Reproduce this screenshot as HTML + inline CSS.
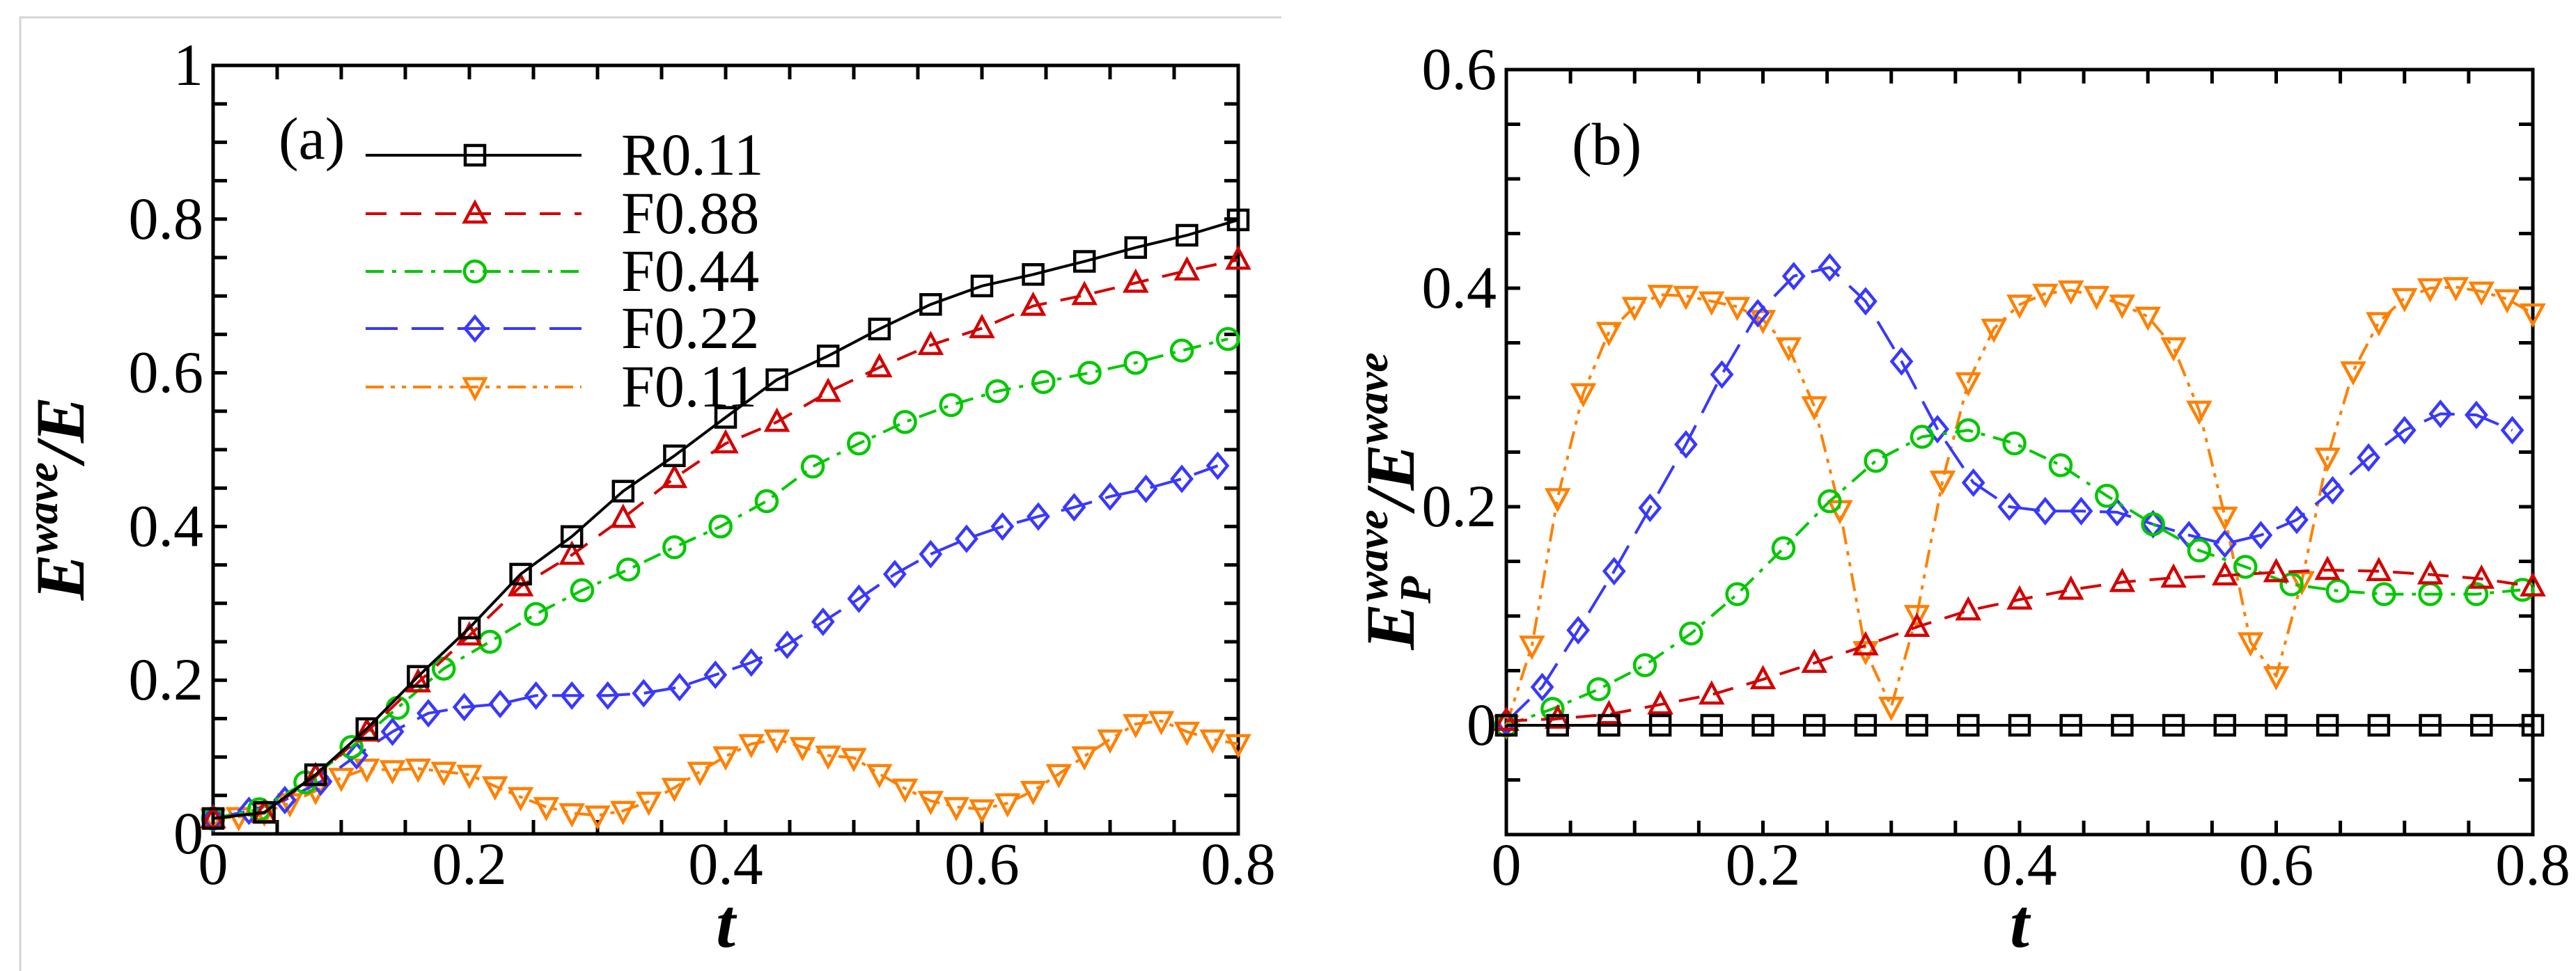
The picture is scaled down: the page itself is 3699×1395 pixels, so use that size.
<!DOCTYPE html>
<html><head><meta charset="utf-8"><style>
html,body{margin:0;padding:0;background:#fff;}
svg{display:block;}
svg text{font-family:"Liberation Serif","Times New Roman","DejaVu Serif",serif;fill:#000;}
</style></head><body>
<svg id="fig" width="3699" height="1395" viewBox="0 0 3699 1395" xmlns="http://www.w3.org/2000/svg" font-family="'Liberation Serif','Times New Roman','DejaVu Serif',serif">
<rect x="0" y="0" width="3699" height="1395" fill="#fff"/>
<path d="M29 1395 V25 H1840" fill="none" stroke="#d4d4d4" stroke-width="3"/>
<g id="pa"></g>
<g id="pb"></g>
</svg>
<script>
// ---- Panel (a) data ----
const aR_t = [0,0.04,0.08,0.12,0.16,0.2,0.24,0.28,0.32,0.36,0.4,0.44,0.48,0.52,0.56,0.6,0.64,0.68,0.72,0.76,0.8];
const aR_v = [0.02,0.028,0.077,0.137,0.205,0.268,0.338,0.387,0.446,0.492,0.542,0.591,0.622,0.657,0.689,0.713,0.728,0.745,0.763,0.779,0.799];
const aF88_v = [0.02,0.027,0.075,0.133,0.197,0.258,0.322,0.363,0.411,0.463,0.508,0.536,0.575,0.607,0.636,0.658,0.687,0.701,0.717,0.733,0.747];
const aF44_v = [0.02,0.032,0.067,0.113,0.164,0.215,0.25,0.286,0.317,0.344,0.373,0.4,0.433,0.478,0.508,0.536,0.558,0.576,0.588,0.6,0.613,0.629,0.644];
const aF22_v = [0.02,0.03,0.044,0.068,0.102,0.133,0.157,0.165,0.169,0.18,0.18,0.18,0.183,0.191,0.207,0.223,0.246,0.276,0.306,0.338,0.364,0.384,0.4,0.413,0.425,0.439,0.449,0.462,0.479];
const aF11_v = [0.02,0.022,0.028,0.04,0.056,0.073,0.085,0.083,0.085,0.081,0.077,0.062,0.048,0.035,0.027,0.024,0.03,0.042,0.06,0.081,0.101,0.117,0.123,0.113,0.102,0.099,0.078,0.059,0.043,0.035,0.032,0.04,0.056,0.078,0.101,0.123,0.143,0.147,0.133,0.123,0.117];
// ---- Panel (b) data ----
const bR_v = [0,0,0,0,0,0,0,0,0,0,0,0,0,0,0,0,0,0,0,0,0];
const bF88_v = [0.004,0.006,0.01,0.019,0.028,0.042,0.057,0.073,0.09,0.105,0.115,0.124,0.131,0.135,0.137,0.14,0.142,0.141,0.138,0.134,0.127];
const bF44_v = [0,0.015,0.033,0.055,0.084,0.12,0.162,0.205,0.242,0.264,0.27,0.258,0.238,0.21,0.184,0.16,0.145,0.129,0.123,0.12,0.12,0.12,0.124];
const bF22_v = [0.003,0.035,0.087,0.141,0.199,0.257,0.321,0.377,0.411,0.419,0.388,0.333,0.271,0.222,0.2,0.196,0.196,0.195,0.184,0.174,0.166,0.174,0.188,0.215,0.245,0.27,0.285,0.284,0.27];
const bF11_v = [0,0.073,0.208,0.304,0.36,0.383,0.394,0.393,0.388,0.383,0.371,0.346,0.292,0.197,0.068,0.017,0.101,0.224,0.314,0.363,0.385,0.395,0.398,0.393,0.385,0.374,0.346,0.288,0.191,0.076,0.045,0.132,0.245,0.324,0.369,0.391,0.4,0.401,0.397,0.39,0.377];
const xTicks = [0,0.2,0.4,0.6,0.8];
const xTickLabels = ["0","0.2","0.4","0.6","0.8"];
const aYTicks = [0,0.2,0.4,0.6,0.8,1];
const aYTickLabels = ["0","0.2","0.4","0.6","0.8","1"];
const bYTicks = [0,0.2,0.4,0.6];
const bYTickLabels = ["0","0.2","0.4","0.6"];
const legendNames = ["R0.11","F0.88","F0.44","F0.22","F0.11"];

const NS="http://www.w3.org/2000/svg";
const FF="'Liberation Serif','Times New Roman','DejaVu Serif',serif";
function mk(tag, attrs, parent){const e=document.createElementNS(NS,tag);for(const k in attrs)e.setAttribute(k,attrs[k]);if(tag==="text")e.setAttribute("font-family",FF);parent.appendChild(e);return e;}
function tseq(step,n){const a=[];for(let i=0;i<n;i++)a.push(+(i*step).toFixed(4));return a;}

const styles = {
  R:{c:"#000000",d:"none",m:"sq"},
  F88:{c:"#d40000",d:"30 20",m:"tri"},
  F44:{c:"#00c800",d:"26 12 6 12",m:"circ"},
  F22:{c:"#3838ff",d:"46 20",m:"dia"},
  F11:{c:"#ff8000",d:"26 10 6 10 6 10",m:"tdn"}
};

function marker(g,type,x,y,c){
  const s=14; let e;
  if(type==="sq") e=mk("rect",{x:x-s,y:y-s,width:2*s,height:2*s},g);
  else if(type==="circ") e=mk("circle",{cx:x,cy:y,r:s+1},g);
  else if(type==="tri") e=mk("polygon",{points:`${x},${y-s-2} ${x+s+1},${y+s-2} ${x-s-1},${y+s-2}`},g);
  else if(type==="tdn") e=mk("polygon",{points:`${x},${y+s+2} ${x+s+1},${y-s+2} ${x-s-1},${y-s+2}`},g);
  else e=mk("polygon",{points:`${x},${y-s-3} ${x+s},${y} ${x},${y+s+3} ${x-s},${y}`},g);
  e.setAttribute("fill","none");e.setAttribute("stroke",c);e.setAttribute("stroke-width","4.5");
  
  
}

function series(g,name,st,ts,vs,X,Y){
  const sg=mk("g",{},g);
  
  
  const pts=ts.map((t,i)=>X(t)+","+Y(vs[i])).join(" ");
  const pl=mk("polyline",{points:pts,fill:"none",stroke:st.c,"stroke-width":4,"stroke-dasharray":st.d,"stroke-linejoin":"round"},sg);
  
  
  ts.forEach((t,i)=>marker(sg,st.m,X(t),Y(vs[i]),st.c));
}

function axes(g,L,R,T,B,ymin,ymax,X,Y,yTicks,yLabels,pfx){
  const tg=mk("g",{stroke:"#000","stroke-width":5},g);
  
  
  for(let k=0;k<=16;k++){const t=k*0.05,x=X(t);
    mk("line",{x1:x,y1:B,x2:x,y2:B-20},tg);mk("line",{x1:x,y1:T,x2:x,y2:T+20},tg);}
  const nY=Math.round((ymax-ymin)/0.05);
  for(let k=0;k<=nY;k++){const v=ymin+k*0.05,y=Y(v);
    mk("line",{x1:L,y1:y,x2:L+20,y2:y},tg);mk("line",{x1:R,y1:y,x2:R-20,y2:y},tg);}
  const fr=mk("rect",{x:L,y:T,width:R-L,height:B-T,fill:"none",stroke:"#000","stroke-width":5},g);
  
  
  xTicks.forEach((t,i)=>{const e=mk("text",{x:X(t),y:B+72,"font-size":86,"text-anchor":"middle"},g);e.textContent=xTickLabels[i];
    
    });
  yTicks.forEach((v,i)=>{const e=mk("text",{x:L-14,y:Y(v)+28,"font-size":86,"text-anchor":"end"},g);e.textContent=yLabels[i];
    
    });
}

// Panel a
(function(){
  const g=document.getElementById("pa");
  const L=306,R=1778,T=94,B=1198;
  const X=t=>L+t/0.8*(R-L), Y=v=>B-v*(B-T);
  axes(g,L,R,T,B,0,1,X,Y,aYTicks,aYTickLabels,"a");
  series(g,"a-F11",styles.F11,tseq(0.02,41),aF11_v,X,Y);
  series(g,"a-F22",styles.F22,tseq(0.028,29),aF22_v,X,Y);
  series(g,"a-F44",styles.F44,tseq(0.036,23),aF44_v,X,Y);
  series(g,"a-F88",styles.F88,aR_t,aF88_v,X,Y);
  series(g,"a-R0.11",styles.R,aR_t,aR_v,X,Y);
  const lab=mk("text",{x:400,y:228,"font-size":86},g);lab.textContent="(a)";
  
  
  const lg=mk("g",{},g);
  
  
  const keys=["R","F88","F44","F22","F11"], ly=[223,307,390,472,556];
  keys.forEach((k,i)=>{const st=styles[k];
    const eg=mk("g",{},lg);
    
    
    mk("line",{x1:525,y1:ly[i],x2:835,y2:ly[i],stroke:st.c,"stroke-width":4,"stroke-dasharray":st.d},eg);
    marker(eg,st.m,682,ly[i],st.c);
    const tx=mk("text",{x:892,y:ly[i]+28,"font-size":86},eg);tx.textContent=legendNames[i];});
  const xt=mk("text",{x:1042,y:1360,"font-size":100,"font-style":"italic","font-weight":"bold","text-anchor":"middle"},g);xt.textContent="t";
  
  
  const yt=mk("text",{x:0,y:0,"font-size":100,"font-style":"italic","font-weight":"bold","text-anchor":"middle",transform:"translate(120,716) rotate(-90)"},g);
  yt.innerHTML='E<tspan font-size="64" dy="-38">wave</tspan><tspan dy="38">/E</tspan>';
  
  
})();

// Panel b
(function(){
  const g=document.getElementById("pb");
  const L=2163,R=3637,B=1199;
  const Y0=1042, per=(B-Y0)/0.1;
  const X=t=>L+t/0.8*(R-L), Y=v=>Y0-v*per;
  axes(g,L,R,Y(0.6),B,-0.1,0.6,X,Y,bYTicks,bYTickLabels,"b");
  series(g,"b-F11",styles.F11,tseq(0.02,41),bF11_v,X,Y);
  series(g,"b-F22",styles.F22,tseq(0.028,29),bF22_v,X,Y);
  series(g,"b-F44",styles.F44,tseq(0.036,23),bF44_v,X,Y);
  series(g,"b-F88",styles.F88,tseq(0.04,21),bF88_v,X,Y);
  series(g,"b-R0.11",styles.R,tseq(0.04,21),bR_v,X,Y);
  const lab=mk("text",{x:2257,y:236,"font-size":86},g);lab.textContent="(b)";
  
  
  const xt=mk("text",{x:2900,y:1360,"font-size":100,"font-style":"italic","font-weight":"bold","text-anchor":"middle"},g);xt.textContent="t";
  
  
  const yt=mk("text",{x:0,y:0,"font-size":100,"font-style":"italic","font-weight":"bold","text-anchor":"middle",transform:"translate(2030,720) rotate(-90)"},g);
  yt.innerHTML='E<tspan font-size="64" dy="24">P</tspan><tspan font-size="64" dx="-36" dy="-62">wave</tspan><tspan dy="38">/E</tspan><tspan font-size="64" dy="-38">wave</tspan>';
  
  
})();
</script>
</body></html>
